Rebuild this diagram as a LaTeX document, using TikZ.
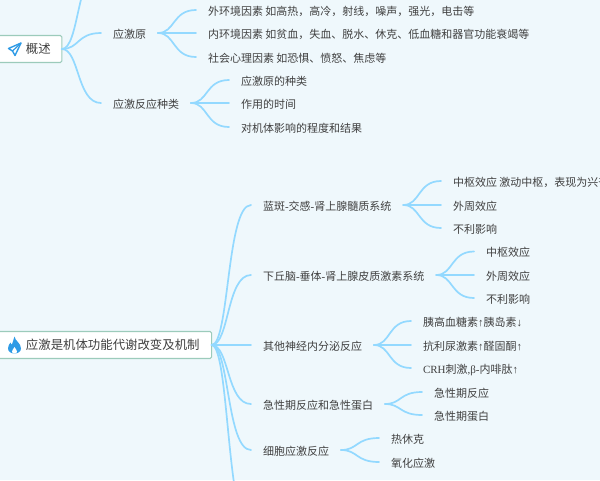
\documentclass[tikz,border=0pt]{standalone}
\usepackage{fontspec}
\setmainfont{Noto Sans CJK SC}
\newfontfamily\serfont{Liberation Serif}
\newcommand{\ser}[1]{{\serfont #1}}
\definecolor{bgc}{HTML}{EFF8FC}
\definecolor{linkc}{HTML}{93D9FF}
\definecolor{txtc}{HTML}{404040}
\definecolor{boxc}{HTML}{9CCBBB}
\definecolor{iconc}{HTML}{2F9BE6}
\usetikzlibrary{calc}
\tikzset{
  x=1pt,y=-1pt,
  leaf/.style={anchor=west,inner sep=0pt,outer sep=0pt,text=txtc,font=\fontsize{11}{13}\selectfont,text height=10pt,text depth=0pt},
  rootbox/.style={anchor=west,draw=boxc,line width=1.1pt,fill=white,rounded corners=1.5pt,inner sep=0pt,outer sep=0pt,text=txtc,font=\fontsize{12.4}{14}\selectfont,minimum height=27pt},
  link/.style={draw=linkc,line width=1.7pt,line cap=round}
}
\newcommand{\curve}[2]{%
  \coordinate (midA) at ($(#1)!0.45!(#2)$);
  \coordinate (midB) at ($(#1)!0.38!(#2)$);
  \draw[link] (#1) .. controls (midA |- #1) and (midB |- #2) .. (#2);}
% parent text to child text: 12pt gap on both sides
\newcommand{\conn}[2]{%
  \path ([xshift=12pt]#1.east) coordinate (s-#1) ([xshift=-12pt]#2.west) coordinate (e-#2);
  \curve{s-#1}{e-#2}}
% root box to child text: starts on the box edge
\newcommand{\rootconn}[2]{%
  \path ([xshift=-12pt]#2.west) coordinate (e-#2) (#1.east) coordinate (s-#1);
  \curve{s-#1}{e-#2}}
\begin{document}
\begin{tikzpicture}
\useasboundingbox (0,0) rectangle (600,480);
\clip (0,0) rectangle (600,480);
\fill[bgc] (0,0) rectangle (600,480);

% first branch
\node[rootbox] (r1) at (-2,49) {\kern28pt 概述\kern11pt};
\node[leaf] (a) at (113,33) {应激原};
\node[leaf] (a1) at (208,10) {外环境因素 如高热，高冷，射线，噪声，强光，电击等};
\node[leaf] (a2) at (208,33) {内环境因素 如贫血，失血、脱水、休克、低血糖和器官功能衰竭等};
\node[leaf] (a3) at (208,57) {社会心理因素 如恐惧、愤怒、焦虑等};
\node[leaf] (b) at (113,103) {应激反应种类};
\node[leaf] (b1) at (241,80) {应激原的种类};
\node[leaf] (b2) at (241,103) {作用的时间};
\node[leaf] (b3) at (241,127) {对机体影响的程度和结果};
\coordinate (uptop) at (101,-32);

\curve{r1.east}{uptop}
\rootconn{r1}{a}
\rootconn{r1}{b}
\foreach \k in {a1,a2,a3}{\conn{a}{\k}}
\foreach \k in {b1,b2,b3}{\conn{b}{\k}}

% second branch
\node[rootbox] (r2) at (-2,345) {\kern28pt 应激是机体功能代谢改变及机制\kern12pt};
\node[leaf] (c) at (263,205) {蓝斑\ser{-}交感\ser{-}肾上腺髓质系统};
\node[leaf] (c1) at (453,181) {中枢效应 激动中枢，表现为兴奋};
\node[leaf] (c2) at (453,205) {外周效应};
\node[leaf] (c3) at (453,228) {不利影响};
\node[leaf] (d) at (263,275) {下丘脑\ser{-}垂体\ser{-}肾上腺皮质激素系统};
\node[leaf] (d1) at (486,251.5) {中枢效应};
\node[leaf] (d2) at (486,275) {外周效应};
\node[leaf] (d3) at (486,298) {不利影响};
\node[leaf] (e) at (263,345) {其他神经内分泌反应};
\node[leaf] (e1) at (423,321) {胰高血糖素\ser{↑}胰岛素\ser{↓}};
\node[leaf] (e2) at (423,345) {抗利尿激素\ser{↑}醛固酮\ser{↑}};
\node[leaf] (e3) at (423,368) {\ser{CRH}刺激\ser{,β-}内啡肽\ser{↑}};
\node[leaf] (f) at (263,404) {急性期反应和急性蛋白};
\node[leaf] (f1) at (434,392) {急性期反应};
\node[leaf] (f2) at (434,415) {急性期蛋白};
\node[leaf] (g) at (263,450) {细胞应激反应};
\node[leaf] (g1) at (391,438) {热休克};
\node[leaf] (g2) at (391,462) {氧化应激};
\coordinate (downbot) at (251,530);

\curve{r2.east}{downbot}
\foreach \k in {c,d,e,f,g}{\rootconn{r2}{\k}}
\foreach \k in {c1,c2,c3}{\conn{c}{\k}}
\foreach \k in {d1,d2,d3}{\conn{d}{\k}}
\foreach \k in {e1,e2,e3}{\conn{e}{\k}}
\foreach \k in {f1,f2}{\conn{f}{\k}}
\foreach \k in {g1,g2}{\conn{g}{\k}}

% icons
\draw[iconc,line width=1.4pt,line join=round,fill=white]
  (21,43) -- (8.5,48.5) -- (12.5,51) -- (15,55.5) -- cycle;
\draw[iconc,line width=1.2pt] (21,43) -- (12.5,51);
\fill[iconc] (14.5,336.5) .. controls (15,341) and (21,343) .. (21,348.5)
  .. controls (21,351.5) and (18,353.5) .. (14.5,353.5)
  .. controls (11,353.5) and (8,351.5) .. (8,348.5)
  .. controls (8,345.5) and (9.5,344) .. (10.5,342.5)
  .. controls (11,344) and (11.5,344.5) .. (12,344.5)
  .. controls (13,342) and (13.5,339) .. (14.5,336.5) -- cycle;
\fill[white] (14.5,347) .. controls (15.5,349) and (17,350) .. (17,351.5)
  .. controls (17,352.8) and (16,353.5) .. (14.5,353.5)
  .. controls (13,353.5) and (12,352.8) .. (12,351.5)
  .. controls (12,350) and (13.5,349) .. (14.5,347) -- cycle;
\end{tikzpicture}
\end{document}
